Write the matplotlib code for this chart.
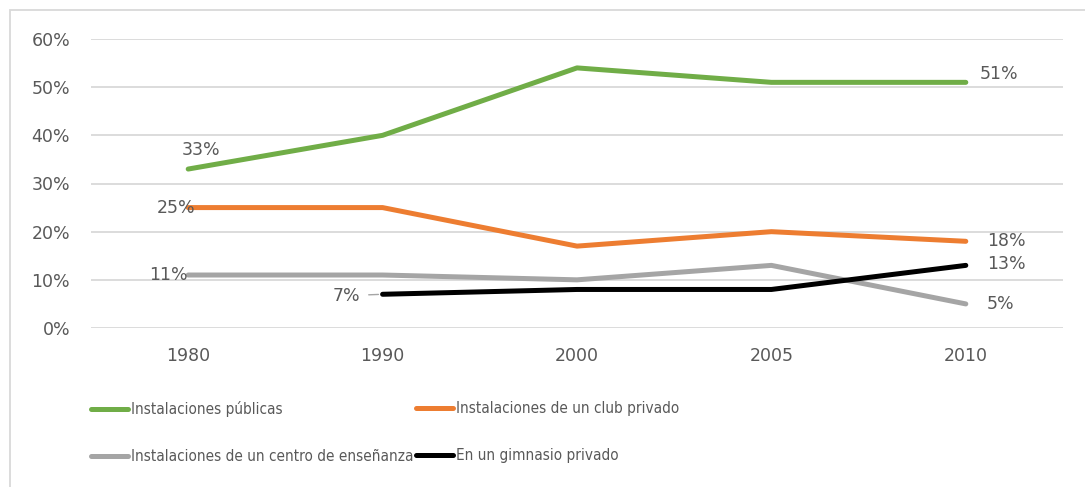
import numpy as np
import matplotlib
matplotlib.use('Agg')
import matplotlib.pyplot as plt
from matplotlib.patches import Rectangle

# datos
years = ['1980', '1990', '2000', '2005', '2010']
publicas = [0.33, 0.40, 0.54, 0.51, 0.51]
club = [0.25, 0.25, 0.17, 0.20, 0.18]
ensenanza = [0.11, 0.11, 0.10, 0.13, 0.05]
gimnasio = [np.nan, 0.07, 0.08, 0.08, 0.13]

names = ['Instalaciones públicas', 'Instalaciones de un club privado',
         'Instalaciones de un centro de enseñanza', 'En un gimnasio privado']
colors = ['#70AD47', '#ED7D31', '#A5A5A5', '#000000']

plt.rcParams['font.family'] = ['DejaVu Sans']
txt = '#595959'

fig = plt.figure(figsize=(10.85, 4.87), dpi=100)
W, H = 1085, 487
ax = fig.add_axes([91 / W, (H - 328) / H, (1063 - 91) / W, (328 - 39) / H])

x = np.arange(len(years))
series = [publicas, club, ensenanza, gimnasio]
lines = []
for s, c, n in zip(series, colors, names):
    l, = ax.plot(x, s, color=c, lw=3.6, solid_capstyle='round', label=n)
    lines.append(l)

ax.set_xlim(-0.5, 4.5)
ax.set_ylim(0, 0.6)
ax.set_yticks(np.arange(0, 0.61, 0.1))
ax.set_yticklabels([f'{int(round(v*100))}%' for v in np.arange(0, 0.61, 0.1)])
ax.set_xticks(x)
ax.set_xticklabels(years)
ax.tick_params(axis='both', length=0, labelsize=12.5, labelcolor=txt)
ax.tick_params(axis='y', pad=15)
ax.tick_params(axis='x', pad=14)
ax.grid(True, axis='y', color='#D9D9D9', lw=1.3)
ax.set_axisbelow(True)
for sp in ax.spines.values():
    sp.set_visible(False)

def lab(xi, yi, dx, dy, ha='center', **kw):
    ax.annotate(f'{int(round(yi*100))}%', (xi, yi), xytext=(dx, dy),
                textcoords='offset points', ha=ha, va='center',
                fontsize=12.5, color=txt, **kw)

lab(0, publicas[0], 9, 14)
lab(0, club[0], 5, 0, ha='right')
lab(0, ensenanza[0], 0, 0, ha='right')
lab(1, gimnasio[1], -16, -1, ha='right',
    arrowprops=dict(arrowstyle='-', color='#A5A5A5', lw=1, shrinkA=4, shrinkB=3))
lab(4, publicas[4], 10, 6, ha='left')
lab(4, club[4], 15, 0, ha='left')
lab(4, gimnasio[4], 15, 1, ha='left')
lab(4, ensenanza[4], 15, 0, ha='left')

# leyenda en dos columnas fijas
legkw = dict(loc='upper left', frameon=False, labelcolor=txt,
             prop=dict(family='DejaVu Sans', stretch='condensed', size=11),
             handlelength=2.4, handletextpad=0.2, labelspacing=2.12,
             borderaxespad=0, borderpad=0)
fig.legend(handles=[lines[0], lines[2]], bbox_to_anchor=(91 / W, 1 - 401 / H), **legkw)
fig.legend(handles=[lines[1], lines[3]], bbox_to_anchor=(416 / W, 1 - 401 / H), **legkw)

# marco del grafico
fig.add_artist(Rectangle((10 / W, -0.1), 1.2, 1 - 10 / H + 0.1, transform=fig.transFigure,
                         fill=False, edgecolor='#D9D9D9', lw=1.3))

fig.savefig('out.png', dpi=100)
